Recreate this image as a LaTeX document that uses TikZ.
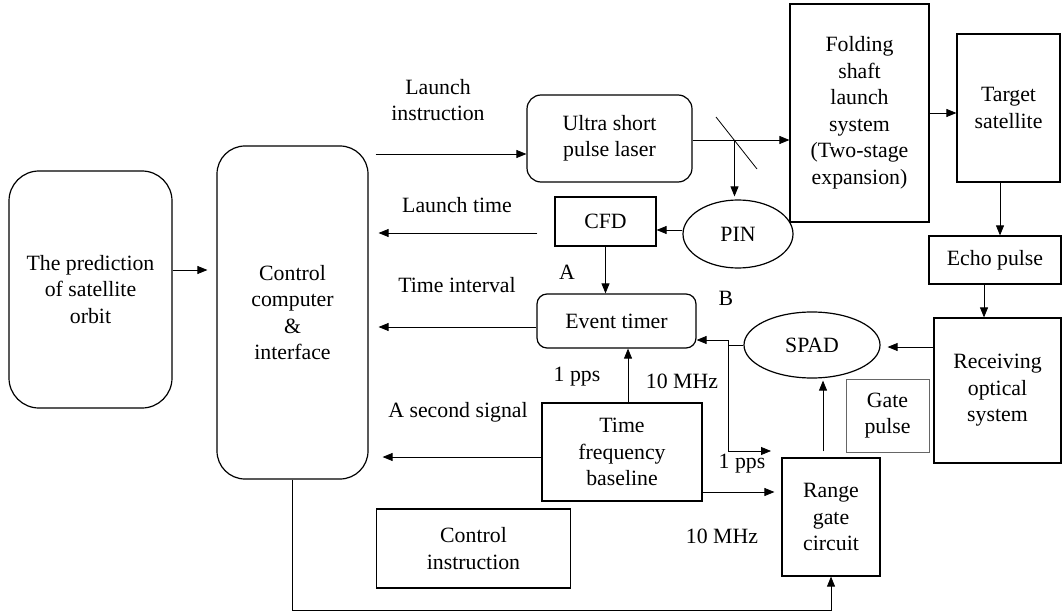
\documentclass[tikz,border=0pt]{standalone}
\usepackage{fontspec}
\setmainfont{Liberation Serif}
\usetikzlibrary{arrows.meta,shapes.geometric}
\newcommand\dfont{\fontsize{21.8}{26.5}\selectfont}
\tikzset{
  box/.style={draw, line width=1.2pt, inner sep=0pt, align=center, font=\dfont},
  rbox/.style={box, rounded corners=#1},
  ell/.style={draw, ellipse, line width=1.2pt, inner sep=0pt, font=\dfont},
  arr/.style={-{Triangle[length=10pt,width=8pt]}, line width=0.8pt},
  ln/.style={line width=0.8pt},
  lbl/.style={align=center, font=\dfont, inner sep=0pt}
}
\begin{document}
\begin{tikzpicture}[x=1pt,y=-1pt]
\useasboundingbox (0,0) rectangle (1064,612);
% nodes
\node[rbox=30pt, minimum width=163pt, minimum height=237pt] (pred) at (90.5,289.5) {The prediction\\of satellite\\orbit};
\node[rbox=28pt, minimum width=151pt, minimum height=333pt] (ctrl) at (292.5,312.5) {Control\\computer\\\&\\interface};
\node[rbox=14pt, minimum width=165pt, minimum height=87pt] (laser) at (609.5,138.5) {Ultra short\\pulse laser};
\node[box, minimum width=139pt, minimum height=218pt] (fold) at (859.5,113) {Folding\\shaft\\launch\\system\\(Two-stage\\expansion)};
\node[box, minimum width=103pt, minimum height=148pt] (tgt) at (1008.5,108) {Target\\satellite};
\node[box, minimum width=132pt, minimum height=48pt] (echo) at (995,260) {Echo pulse};
\node[box, minimum width=127pt, minimum height=145pt] (rec) at (997.5,390.5) {Receiving\\optical\\system};
\node[box, draw=black!60, line width=0.8pt, minimum width=83pt, minimum height=73pt] (gate) at (887.5,415.5) {Gate\\pulse};
\node[box, minimum width=98pt, minimum height=118pt] (rg) at (831,517) {Range\\gate\\circuit};
\node[ell, minimum width=136pt, minimum height=66pt] (spad) at (812,345) {SPAD};
\node[ell, minimum width=110pt, minimum height=68pt] (pin) at (738,234) {PIN};
\node[box, minimum width=101pt, minimum height=49pt] (cfd) at (605.5,221.5) {CFD};
\node[rbox=10pt, minimum width=159pt, minimum height=54pt] (et) at (616.5,321) {Event timer};
\node[box, minimum width=160pt, minimum height=98pt] (tfb) at (622,452) {Time\\frequency\\baseline};
\node[box, minimum width=194pt, minimum height=79pt] (ci) at (473.5,548.5) {Control\\instruction};
% labels
\node[lbl] (l1) at (438,100) {Launch\\instruction};
\node[lbl] (l2) at (457,205) {Launch time};
\node[lbl] (l3) at (457,285) {Time interval};
\node[lbl] (l4) at (458,412) {A second signal};
\node[lbl] (l5) at (577,377) {1 pps};
\node[lbl] (l6) at (682,381) {10 MHz};
\node[lbl] (l7) at (742,464) {1 pps};
\node[lbl] (l8) at (722,536) {10 MHz};
\node[lbl] (lA) at (567,272) {A};
\node[lbl] (lB) at (726,298) {B};
% helper coordinates
\coordinate (y270) at (0,270);
\coordinate (y154) at (0,154);
\coordinate (y140) at (0,140);
\coordinate (y230) at (0,230);
\coordinate (y233) at (0,233);
\coordinate (y327) at (0,327);
\coordinate (y457) at (0,457);
\coordinate (y492) at (0,492);
\coordinate (y347) at (0,347);
\coordinate (y113) at (0,113);
\coordinate (yb) at (0,610);
\coordinate (x628) at (628,0);
\coordinate (x823) at (823,0);
\coordinate (x1000) at (1000,0);
\coordinate (x984) at (984,0);
\coordinate (M) at (734.5,140);
\coordinate (J) at (728,340);
\coordinate (P1) at (771,451);
% mirror
\draw[ln] (716,117) -- (757,169);
% connectors
\draw[arr, shorten >=9pt] (pred.east |- y270) -- (ctrl.west |- y270);
\draw[arr, shorten <=7pt] (ctrl.east |- y154) -- (laser.west |- y154);
\draw[arr] (laser.east |- y140) -- (fold.west |- y140);
\draw[arr, shorten >=3pt] (M) -- (M |- pin.north);
\draw[arr] (pin.west |- y230) -- (cfd.east |- y230);
\draw[arr, shorten <=17pt, shorten >=10pt] (cfd.west |- y233) -- (ctrl.east |- y233);
\draw[arr] (cfd.south) -- (cfd.south |- et.north);
\draw[arr, shorten >=10pt] (et.west |- y327) -- (ctrl.east |- y327);
\draw[arr] (x628 |- tfb.north) -- (x628 |- et.south);
\draw[arr, shorten >=14pt] (tfb.west |- y457) -- (ctrl.east |- y457);
\draw[arr, shorten >=7pt] (tfb.east |- y492) -- (rg.west |- y492);
\draw[arr] (ctrl.south) -- (ctrl.south |- yb) -| (rg.south);
\draw[arr, shorten <=6pt, shorten >=2pt] (x823 |- rg.north) -- (x823 |- spad.south);
\draw[arr] (spad.west) -| (J) -- (J -| et.east);
\draw[arr] (J) |- (P1);
\draw[arr, shorten >=7pt] (rec.west |- y347) -- (spad.east |- y347);
\draw[arr] (fold.east |- y113) -- (tgt.west |- y113);
\draw[arr] (x1000 |- tgt.south) -- (x1000 |- echo.north);
\draw[arr] (x984 |- echo.south) -- (x984 |- rec.north);
\end{tikzpicture}
\end{document}
